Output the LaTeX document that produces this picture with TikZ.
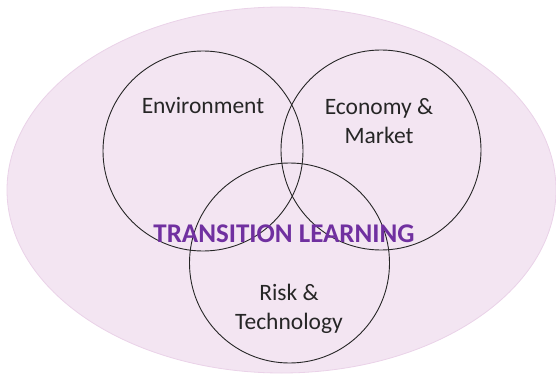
\documentclass[tikz,border=0pt]{standalone}
\usepackage{fontspec}
\usetikzlibrary{shapes.geometric}
\setmainfont{Carlito}
\definecolor{bgfill}{RGB}{243,229,242}
\definecolor{bgline}{RGB}{234,210,232}
\definecolor{tlpurple}{RGB}{112,48,160}
\definecolor{txt}{RGB}{38,38,38}
\begin{document}
\begin{tikzpicture}[x=1pt,y=1pt,
  ring/.style={circle,draw=black!85,line width=0.9pt,minimum size=200pt,inner sep=0pt},
  lbl/.style={text=txt,font=\fontsize{23.5}{29.5}\selectfont,align=center}]
\useasboundingbox (0,0) rectangle (556,378);
\node[ellipse,draw=bgline,fill=bgfill,line width=0.8pt,minimum width=549pt,minimum height=366pt,inner sep=0pt] (outer) at (281.5,188) {};
\node[ring] (env) at (203,227) {};
\node[ring] (eco) at (381,228) {};
\node[ring] (risk) at (289.5,115) {};
\node[lbl] (envt) at (203,272) {Environment};
\node[lbl] (ecot) at (379,257) {Economy \&\\Market};
\node[lbl] (riskt) at (289,69) {Risk \&\\Technology};
\node[text=tlpurple,font=\fontsize{27}{32}\selectfont\bfseries] (tl) at (284,144) {TRANSITION LEARNING};
\end{tikzpicture}
\end{document}
